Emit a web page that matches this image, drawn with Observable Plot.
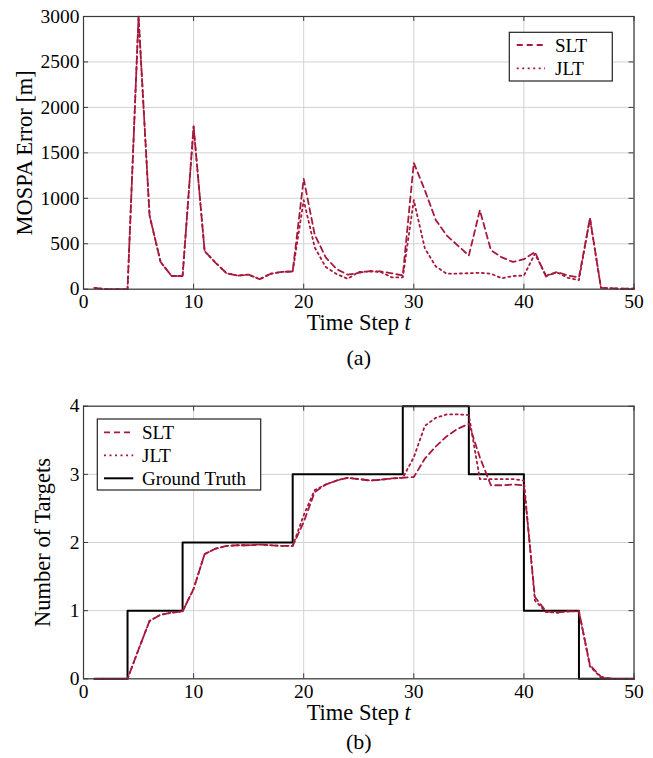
<!DOCTYPE html>
<html>
<head>
<meta charset="utf-8">
<script src="https://cdn.jsdelivr.net/npm/d3@7"></script>
<script src="https://cdn.jsdelivr.net/npm/@observablehq/plot@0.6"></script>
<style>
  html, body { margin: 0; padding: 0; background: #fff; }
  #wrap { position: relative; width: 653px; height: 758px; overflow: hidden; }
  #wrap svg { position: absolute; left: 0; }
  #wrap svg, #wrap svg text { font-family: "Liberation Serif", "Times New Roman", serif !important; }
</style>
</head>
<body>
<div id="wrap"></div>
<script>
// ---------- data ----------
const timeSteps = d3.range(1, 51);
const timeTicks = [0, 10, 20, 30, 40, 50];
const mospaTicks = [0, 500, 1000, 1500, 2000, 2500, 3000];
const countTicks = [0, 1, 2, 3, 4];

const mospaSLT = [15, 0, 0, 0, 3000, 810, 300, 145, 145, 1790,
  420, 290, 175, 150, 160, 110, 170, 190, 195, 1214,
  600, 350, 220, 160, 180, 200, 195, 175, 150, 1390,
  1090, 760, 590, 480, 370, 870, 430, 350, 300, 330,
  410, 140, 190, 150, 130, 780, 15, 10, 5, 5];
const mospaJLT = [15, 0, 0, 0, 3000, 810, 300, 145, 145, 1790,
  420, 290, 175, 150, 160, 110, 170, 190, 195, 980,
  460, 245, 165, 115, 190, 195, 190, 130, 130, 980,
  450, 250, 170, 172, 176, 180, 170, 120, 145, 150,
  390, 150, 185, 125, 100, 780, 15, 10, 5, 5];

const countSLT = [0, 0, 0, 0, 0.43, 0.85, 0.94, 0.97, 0.99, 1.32,
  1.83, 1.91, 1.95, 1.96, 1.96, 1.97, 1.96, 1.95, 1.95, 2.3,
  2.74, 2.85, 2.91, 2.95, 2.93, 2.91, 2.92, 2.94, 2.95, 2.96,
  3.23, 3.41, 3.56, 3.67, 3.74, 3.25, 2.84, 2.84, 2.85, 2.84,
  1.2, 0.99, 0.97, 0.99, 0.99, 0.2, 0.03, 0, 0, 0];
const countJLT = [0, 0, 0, 0, 0.43, 0.85, 0.94, 0.97, 0.99, 1.32,
  1.83, 1.91, 1.95, 1.96, 1.96, 1.97, 1.96, 1.95, 1.95, 2.4,
  2.77, 2.85, 2.91, 2.95, 2.93, 2.91, 2.92, 2.94, 2.95, 3.25,
  3.71, 3.83, 3.88, 3.88, 3.87, 2.93, 2.93, 2.93, 2.93, 2.91,
  1.15, 0.98, 0.97, 0.99, 0.99, 0.18, 0.02, 0, 0, 0];
const countTruth = [0, 0, 0, 1, 1, 1, 1, 1, 2, 2,
  2, 2, 2, 2, 2, 2, 2, 2, 3, 3,
  3, 3, 3, 3, 3, 3, 3, 3, 4, 4,
  4, 4, 4, 4, 3, 3, 3, 3, 3, 1,
  1, 1, 1, 1, 0, 0, 0, 0, 0, 0];

const seriesNames = ["SLT", "JLT", "Ground Truth"];
const xLabel = "Time Step t";
const yLabelA = "MOSPA Error [m]";
const yLabelB = "Number of Targets";

// ---------- style ----------
const FONT = "'Liberation Serif', 'Times New Roman', serif";
const RED = "#a6193c";
const GRID = "#d2d2d2";
const FRAME = "#3a3a3a";
const DASH = "6,4";
const DOT = "2,3.5";
const W = 653, ML = 83, MR = 19.5;
const PW = W - ML - MR;
const fmt = d3.format("d");

const rows = (vals) => timeSteps.map((t, i) => ({t, v: vals[i]}));

function panel({height, marginTop, marginBottom, yDomain, yTicks, yLabel, yLabelDx, caption, captionDy, lines}) {
  const PH = height - marginTop - marginBottom;
  return Plot.plot({
    width: W, height, marginTop, marginBottom, marginLeft: ML, marginRight: MR,
    style: {fontFamily: FONT, fontSize: "19.5px", color: "#000", background: "transparent", overflow: "visible"},
    x: {domain: [0, 50]},
    y: {domain: yDomain},
    marks: [
      Plot.gridX(timeTicks, {stroke: GRID, strokeOpacity: 1, strokeWidth: 1}),
      Plot.gridY(yTicks, {stroke: GRID, strokeOpacity: 1, strokeWidth: 1}),
      Plot.tickX(timeTicks, {x: d => d, insetTop: PH - 5, stroke: FRAME, strokeWidth: 1}),
      Plot.tickX(timeTicks, {x: d => d, insetBottom: PH - 5, stroke: FRAME, strokeWidth: 1}),
      Plot.tickY(yTicks, {y: d => d, insetRight: PW - 5, stroke: FRAME, strokeWidth: 1}),
      Plot.tickY(yTicks, {y: d => d, insetLeft: PW - 5, stroke: FRAME, strokeWidth: 1}),
      Plot.axisX(timeTicks, {tickSize: 0, tickPadding: 5, fontSize: 19.5, label: null, tickFormat: fmt}),
      Plot.axisY(yTicks, {tickSize: 0, tickPadding: 4, fontSize: 19.5, label: null, tickFormat: fmt}),
      ...lines,
      Plot.frame({stroke: FRAME, strokeWidth: 1.2}),
      Plot.text([yLabel], {text: d => d, frameAnchor: "left", rotate: -90, dx: yLabelDx,
        textAnchor: "middle", lineAnchor: "middle", fontSize: 22.5}),
      Plot.text([xLabel], {text: d => d, frameAnchor: "bottom", dy: 34,
        textAnchor: "middle", lineAnchor: "middle", fontSize: 22.5}),
      Plot.text([caption], {text: d => d, frameAnchor: "bottom", dy: captionDy,
        textAnchor: "middle", lineAnchor: "middle", fontSize: 22})
    ]
  });
}

function italicT(svg) {
  d3.select(svg).selectAll("text").filter(function() { return this.textContent === xLabel; })
    .each(function() {
      const s = d3.select(this);
      s.text("Time Step ");
      s.append("tspan").attr("font-style", "italic").text("t");
    });
}

function addLegend(svg, box, items) {
  const g = d3.select(svg).append("g").attr("font-family", FONT).attr("font-size", 19)
    .attr("text-anchor", "start");
  g.append("rect").attr("x", box.x).attr("y", box.y).attr("width", box.w).attr("height", box.h)
    .attr("fill", "#fff").attr("stroke", "#222").attr("stroke-width", 1.2);
  items.forEach((it, i) => {
    const cy = box.y + box.first + i * box.gap;
    g.append("line").attr("x1", box.lx1).attr("x2", box.lx2).attr("y1", cy).attr("y2", cy)
      .attr("stroke", it.color).attr("stroke-width", it.width).attr("stroke-dasharray", it.dash || null);
    g.append("text").attr("x", box.tx).attr("y", cy).attr("dy", "0.35em")
      .attr("text-anchor", "start").attr("fill", "#000").text(it.name);
  });
}

const wrap = document.getElementById("wrap");

// ---------- panel (a) ----------
const svgA = panel({
  height: 390, marginTop: 16, marginBottom: 101.3,
  yDomain: [0, 3000], yTicks: mospaTicks, yLabel: yLabelA, yLabelDx: -59, caption: "(a)", captionDy: 69,
  lines: [
    Plot.line(rows(mospaJLT), {x: "t", y: "v", stroke: RED, strokeWidth: 1.8, strokeDasharray: DOT}),
    Plot.line(rows(mospaSLT), {x: "t", y: "v", stroke: RED, strokeWidth: 1.8, strokeDasharray: DASH})
  ]
});
svgA.style.top = "0px";
italicT(svgA);
addLegend(svgA, {x: 509.3, y: 32.3, w: 103, h: 48.7, first: 12.7, gap: 23.3, lx1: 516.7, lx2: 545, tx: 555}, [
  {name: seriesNames[0], color: RED, width: 1.8, dash: DASH},
  {name: seriesNames[1], color: RED, width: 1.8, dash: DOT}
]);
wrap.appendChild(svgA);

// ---------- panel (b) ----------
const svgB = panel({
  height: 368, marginTop: 15.7, marginBottom: 79.7,
  yDomain: [0, 4], yTicks: countTicks, yLabel: yLabelB, yLabelDx: -41, caption: "(b)", captionDy: 63,
  lines: [
    Plot.line(rows(countTruth), {x: "t", y: "v", stroke: "#000", strokeWidth: 2, curve: "step-after"}),
    Plot.line(rows(countJLT), {x: "t", y: "v", stroke: RED, strokeWidth: 1.8, strokeDasharray: DOT}),
    Plot.line(rows(countSLT), {x: "t", y: "v", stroke: RED, strokeWidth: 1.8, strokeDasharray: DASH})
  ]
});
svgB.style.top = "390px";
italicT(svgB);
addLegend(svgB, {x: 97.3, y: 29, w: 163.4, h: 71, first: 13.3, gap: 23, lx1: 104, lx2: 133.3, tx: 142}, [
  {name: seriesNames[0], color: RED, width: 1.8, dash: DASH},
  {name: seriesNames[1], color: RED, width: 1.8, dash: DOT},
  {name: seriesNames[2], color: "#000", width: 2}
]);
wrap.appendChild(svgB);
</script>
</body>
</html>
